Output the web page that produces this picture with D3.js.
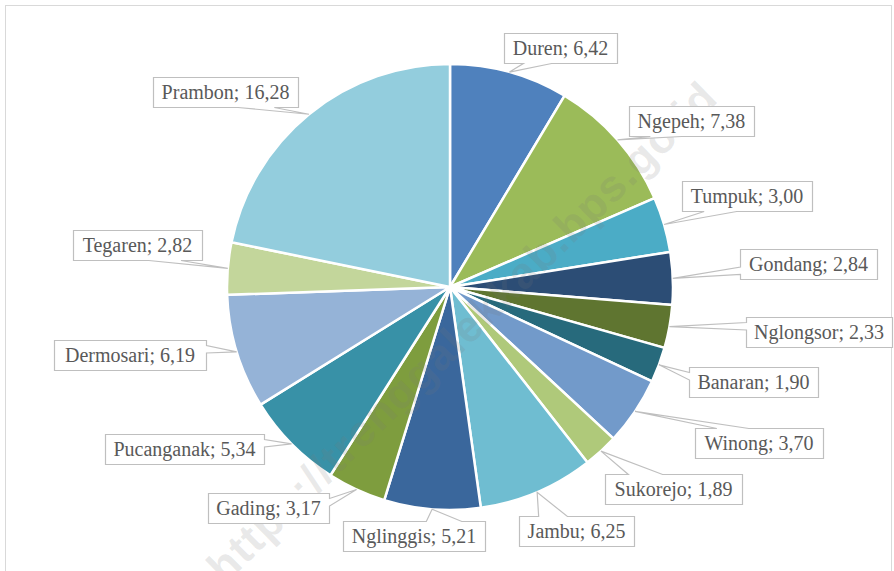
<!DOCTYPE html>
<html>
<head>
<meta charset="utf-8">
<script src="https://cdn.jsdelivr.net/npm/d3@7"></script>
<style>
  html, body { margin: 0; padding: 0; background: #ffffff; }
  svg { display: block; }
</style>
</head>
<body>
<svg id="chart" width="894" height="571"></svg>
<script>
// ---- data ----
const categories = ["Duren", "Ngepeh", "Tumpuk", "Gondang", "Nglongsor", "Banaran", "Winong",
  "Sukorejo", "Jambu", "Nglinggis", "Gading", "Pucanganak", "Dermosari", "Tegaren", "Prambon"];
const values = [6.42, 7.38, 3.00, 2.84, 2.33, 1.90, 3.70, 1.89, 6.25, 5.21, 3.17, 5.34, 6.19, 2.82, 16.28];
const valueLabels = ["6,42", "7,38", "3,00", "2,84", "2,33", "1,90", "3,70", "1,89", "6,25", "5,21",
  "3,17", "5,34", "6,19", "2,82", "16,28"];

// ---- styles / layout ----
const colors = ["#4F81BD", "#9BBB59", "#4BACC6", "#2C4D75", "#5F7530", "#276A7C", "#729ACA",
  "#AFC97A", "#6FBDD1", "#3A679C", "#7E9D3E", "#3891A7", "#95B3D7", "#C3D69B", "#93CDDD"];
// callout boxes: [left, top, width]
const labelBoxes = [
  [504, 33, 113], [629, 106, 125], [682, 181, 130], [740, 249, 137], [746, 317, 146],
  [689, 367, 129], [695, 428, 128], [605, 474, 137], [519, 516, 115], [343, 521, 142],
  [208, 493, 121], [105, 434, 159], [54, 340, 152], [73, 230, 129], [153, 77, 145]
];
const boxH = 30;
const cx = 450, cy = 287, R = 223;

const svg = d3.select("#chart");

// frame
svg.append("rect")
  .attr("x", 5.5).attr("y", 5.5).attr("width", 886).attr("height", 620)
  .attr("fill", "#ffffff").attr("stroke", "#d9d9d9").attr("stroke-width", 1);

const data = categories.map((c, i) => ({ name: c, value: values[i], label: valueLabels[i], i }));
const pie = d3.pie().value(d => d.value).sort(null);
const arcs = pie(data);
const arc = d3.arc().innerRadius(0).outerRadius(R);

const g = svg.append("g").attr("transform", `translate(${cx},${cy})`);
g.selectAll("path.slice").data(arcs).enter().append("path")
  .attr("class", "slice")
  .attr("d", arc)
  .attr("fill", d => colors[d.data.i])
  .attr("stroke", "#ffffff")
  .attr("stroke-width", 2.5)
  .attr("stroke-linejoin", "round");

// watermark
svg.append("text")
  .attr("transform", "translate(225,585) rotate(-44.4)")
  .attr("font-family", "Liberation Sans, Arial, sans-serif")
  .attr("font-weight", "bold")
  .attr("font-size", 44)
  .attr("letter-spacing", 1.3)
  .attr("fill", "rgba(120,120,120,0.17)")
  .text("https://trenggalekkab.bps.go.id");

// callouts
function calloutPath(x, y, w, h, tx, ty) {
  const bx = x + w / 2, by = y + h / 2;
  const dx = tx - bx, dy = ty - by;
  let side;
  if (Math.abs(dx) * h > Math.abs(dy) * w) side = dx < 0 ? "left" : "right";
  else side = dy < 0 ? "top" : "bottom";
  const bv = tx < bx ? [w / 6, 5 * w / 12] : [7 * w / 12, 5 * w / 6];
  const bh = ty < by ? [h / 6, 5 * h / 12] : [7 * h / 12, 5 * h / 6];
  const p = d3.path();
  p.moveTo(x, y);
  if (side === "top") { p.lineTo(x + bv[0], y); p.lineTo(tx, ty); p.lineTo(x + bv[1], y); }
  p.lineTo(x + w, y);
  if (side === "right") { p.lineTo(x + w, y + bh[0]); p.lineTo(tx, ty); p.lineTo(x + w, y + bh[1]); }
  p.lineTo(x + w, y + h);
  if (side === "bottom") { p.lineTo(x + bv[1], y + h); p.lineTo(tx, ty); p.lineTo(x + bv[0], y + h); }
  p.lineTo(x, y + h);
  if (side === "left") { p.lineTo(x, y + bh[1]); p.lineTo(tx, ty); p.lineTo(x, y + bh[0]); }
  p.closePath();
  return p.toString();
}

const lg = svg.append("g");
arcs.forEach(a => {
  const mid = (a.startAngle + a.endAngle) / 2;
  const tip = d3.pointRadial(mid, R);
  const tx = cx + tip[0], ty = cy + tip[1];
  const [bx, by, bw] = labelBoxes[a.data.i];
  lg.append("path")
    .attr("d", calloutPath(bx + 0.5, by + 0.5, bw, boxH, tx, ty))
    .attr("fill", "#ffffff")
    .attr("stroke", "#bfbfbf")
    .attr("stroke-width", 1.2);
  lg.append("text")
    .attr("x", bx + bw / 2)
    .attr("y", by + boxH / 2 + 7)
    .attr("text-anchor", "middle")
    .attr("font-family", "Liberation Serif, Times New Roman, serif")
    .attr("font-size", 20)
    .attr("fill", "#595959")
    .text(`${a.data.name}; ${a.data.label}`);
});
</script>
</body>
</html>
